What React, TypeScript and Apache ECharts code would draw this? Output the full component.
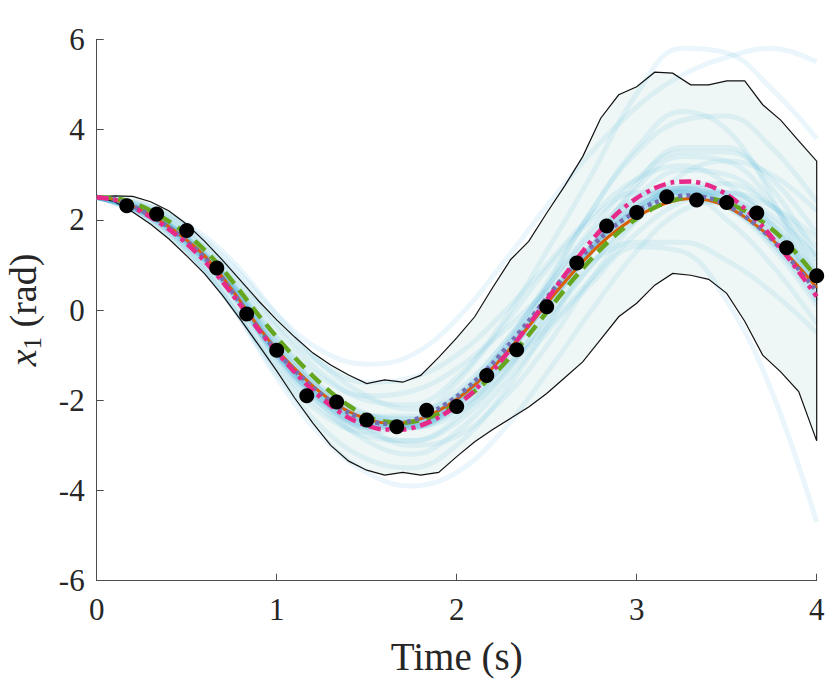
import React, { useEffect, useRef } from 'react';
import * as echarts from 'echarts';

// time grid of the estimate curves (s)
const TIME = [0, 0.1, 0.2, 0.3, 0.4, 0.5, 0.6, 0.7, 0.8, 0.9, 1.0, 1.1, 1.2, 1.3, 1.4, 1.5, 1.6, 1.7, 1.8, 1.9, 2.0,
  2.1, 2.2, 2.3, 2.4, 2.5, 2.6, 2.7, 2.8, 2.9, 3.0, 3.1, 3.2, 3.3, 3.4, 3.5, 3.6, 3.7, 3.8, 3.9, 4.0];

const ORANGE = [2.5, 2.45, 2.3, 2.1, 1.85, 1.55, 1.2, 0.72, 0.18, -0.38, -0.88, -1.3, -1.68, -2.0, -2.25, -2.41, -2.5, -2.5, -2.41, -2.23, -1.98,
  -1.66, -1.28, -0.84, -0.36, 0.14, 0.62, 1.07, 1.47, 1.8, 2.07, 2.27, 2.41, 2.47, 2.43, 2.29, 2.06, 1.76, 1.38, 0.96, 0.5];

const PURPLE = [2.5, 2.45, 2.3, 2.09, 1.83, 1.52, 1.16, 0.68, 0.14, -0.42, -0.92, -1.34, -1.71, -2.03, -2.28, -2.44, -2.52, -2.5, -2.38, -2.18, -1.92,
  -1.58, -1.18, -0.72, -0.24, 0.27, 0.76, 1.21, 1.6, 1.93, 2.19, 2.38, 2.5, 2.54, 2.48, 2.32, 2.08, 1.76, 1.36, 0.9, 0.42];

const GREEN = [2.5, 2.48, 2.38, 2.2, 1.97, 1.68, 1.33, 0.9, 0.4, -0.12, -0.6, -1.05, -1.46, -1.82, -2.12, -2.36, -2.47, -2.5, -2.44, -2.3, -2.08,
  -1.8, -1.45, -1.03, -0.55, -0.05, 0.45, 0.92, 1.35, 1.72, 2.03, 2.27, 2.43, 2.5, 2.48, 2.38, 2.2, 1.95, 1.62, 1.2, 0.72];

const PINK = [2.5, 2.44, 2.28, 2.06, 1.79, 1.47, 1.08, 0.62, 0.1, -0.44, -0.93, -1.38, -1.78, -2.12, -2.39, -2.56, -2.65, -2.65, -2.56, -2.38, -2.12,
  -1.78, -1.35, -0.86, -0.33, 0.22, 0.77, 1.3, 1.77, 2.17, 2.48, 2.7, 2.83, 2.85, 2.76, 2.56, 2.25, 1.85, 1.37, 0.85, 0.3];

const UPPER = [2.5, 2.53, 2.52, 2.4, 2.2, 1.9, 1.52, 1.1, 0.65, 0.2, -0.22, -0.6, -0.95, -1.22, -1.44, -1.63, -1.55, -1.6, -1.45, -1.05, -0.62,
  -0.15, 0.5, 1.12, 1.52, 2.15, 2.75, 3.4, 4.25, 4.77, 4.95, 5.27, 5.25, 4.99, 4.99, 5.08, 5.08, 4.55, 4.21, 3.75, 3.3];

const LOWER = [2.5, 2.4, 2.17, 1.9, 1.58, 1.2, 0.8, 0.32, -0.22, -0.78, -1.35, -1.95, -2.5, -3.0, -3.35, -3.55, -3.66, -3.6, -3.66, -3.6, -3.25,
  -2.92, -2.65, -2.4, -2.15, -1.85, -1.5, -1.15, -0.65, -0.15, 0.15, 0.55, 0.81, 0.77, 0.68, 0.37, -0.25, -1.0, -1.37, -1.81, -2.9];

// measurements (black dots)
const DOT_TIME = [0.167, 0.333, 0.5, 0.667, 0.833, 1.0, 1.167, 1.333, 1.5, 1.667, 1.833, 2.0,
  2.167, 2.333, 2.5, 2.667, 2.833, 3.0, 3.167, 3.333, 3.5, 3.667, 3.833, 4.0];
const DOT_VALUE = [2.31, 2.13, 1.76, 0.93, -0.09, -0.89, -1.9, -2.04, -2.44, -2.59, -2.22, -2.14,
  -1.45, -0.88, 0.07, 1.04, 1.86, 2.16, 2.51, 2.44, 2.38, 2.15, 1.38, 0.76];

// faint sample trajectories
const SAMPLE_TIME = [0, 0.25, 0.5, 0.75, 1.0, 1.25, 1.5, 1.75, 2.0, 2.25, 2.5, 2.75, 3.0, 3.25, 3.5, 3.75, 4.0];
const SAMPLES = [
  [2.5, 2.35, 1.9, 1.1, -0.1, -1.2, -1.9, -2.2, -1.95, -1.3, -0.4, 0.7, 1.7, 2.4, 2.6, 2.3, 1.6],
  [2.5, 2.1, 1.3, 0.1, -1.3, -2.3, -2.7, -2.5, -1.6, -0.4, 0.9, 2.0, 2.6, 2.6, 2.0, 1.0, -0.3],
  [2.5, 2.25, 1.6, 0.6, -0.7, -1.7, -2.3, -2.5, -2.2, -1.4, -0.2, 1.0, 2.0, 2.6, 2.6, 2.1, 1.2],
  [2.5, 2.15, 1.45, 0.35, -1.1, -2.1, -2.6, -2.6, -2.0, -0.9, 0.4, 1.6, 2.4, 2.7, 2.4, 1.5, 0.2],
  [2.5, 2.2, 1.5, 0.4, -1.0, -2.0, -2.7, -2.9, -2.4, -1.2, 0.5, 2.2, 3.5, 4.2, 4.3, 3.6, 2.4],
  [2.5, 2.2, 1.6, 0.6, -0.6, -1.5, -1.9, -1.8, -1.3, -0.5, 0.4, 1.1, 1.5, 1.5, 1.1, 0.4, -0.5],
  [2.5, 2.25, 1.7, 0.8, -0.4, -1.4, -2.0, -2.1, -1.5, -0.3, 1.3, 3.0, 4.8, 5.8, 5.7, 4.9, 3.8],
  [2.5, 2.2, 1.5, 0.4, -1.0, -2.1, -2.9, -3.2, -2.7, -1.7, -0.5, 0.6, 1.4, 1.3, 0.2, -1.8, -4.7],
  [2.5, 2.3, 1.7, 0.7, -0.6, -1.8, -2.6, -3.0, -2.8, -2.0, -0.8, 0.7, 2.0, 3.0, 3.3, 3.0, 2.2],
  [2.5, 2.1, 1.3, 0.1, -1.4, -2.6, -3.3, -3.5, -3.0, -1.9, -0.4, 1.3, 2.8, 3.6, 3.6, 2.7, 1.2],
  [2.5, 2.3, 1.8, 0.9, -0.3, -1.2, -1.6, -1.5, -1.0, -0.1, 1.0, 2.1, 2.9, 3.2, 2.8, 1.9, 0.6],
  [2.5, 2.2, 1.55, 0.5, -0.9, -1.9, -2.5, -2.6, -2.2, -1.3, 0.0, 1.4, 2.5, 3.1, 3.0, 2.3, 1.1],
  [2.5, 2.2, 1.5, 0.45, -0.95, -1.85, -2.35, -2.35, -1.8, -0.8, 0.5, 1.7, 2.5, 2.7, 2.3, 1.4, 0.1],
  [2.5, 2.25, 1.6, 0.55, -0.8, -1.8, -2.45, -2.6, -2.3, -1.5, -0.3, 1.0, 2.1, 2.7, 2.8, 2.3, 1.4],
  [2.5, 2.15, 1.4, 0.3, -1.2, -2.2, -2.8, -2.9, -2.5, -1.5, -0.1, 1.4, 2.7, 3.4, 3.3, 2.4, 0.8],
  [2.5, 2.2, 1.5, 0.4, -1.0, -2.0, -2.5, -2.5, -1.9, -0.8, 0.5, 1.8, 2.9, 3.5, 3.5, 2.9, 1.7],
  [2.5, 2.2, 1.55, 0.5, -0.9, -2.0, -2.6, -2.6, -2.0, -0.9, 0.6, 2.2, 3.6, 4.4, 4.0, 2.5, 0.2],
  [2.5, 2.35, 1.85, 1.0, -0.1, -0.9, -1.2, -1.0, -0.2, 1.0, 2.3, 3.5, 4.5, 5.2, 5.6, 5.8, 5.5],
  [2.5, 2.15, 1.35, 0.1, -1.5, -2.8, -3.6, -3.9, -3.6, -2.7, -1.4, 0.0, 1.3, 2.2, 2.4, 1.9, 0.8],
  [2.5, 2.2, 1.55, 0.55, -0.85, -1.9, -2.45, -2.5, -2.05, -1.1, 0.1, 1.3, 2.2, 2.6, 2.4, 1.7, 0.6],
  [2.5, 2.22, 1.58, 0.55, -0.8, -1.8, -2.35, -2.4, -1.9, -0.95, 0.25, 1.45, 2.3, 2.6, 2.3, 1.5, 0.3],
  [2.5, 2.18, 1.5, 0.42, -1.0, -2.0, -2.55, -2.58, -2.1, -1.1, 0.1, 1.3, 2.25, 2.7, 2.6, 2.0, 1.0],
  [2.5, 2.2, 1.52, 0.48, -0.92, -1.92, -2.45, -2.52, -2.02, -1.02, 0.2, 1.38, 2.22, 2.55, 2.35, 1.62, 0.45],
  [2.5, 2.21, 1.56, 0.52, -0.88, -1.88, -2.42, -2.48, -1.98, -0.98, 0.24, 1.42, 2.28, 2.62, 2.42, 1.7, 0.55],
  [2.5, 2.19, 1.53, 0.46, -0.95, -1.95, -2.48, -2.55, -2.08, -1.08, 0.12, 1.3, 2.15, 2.48, 2.28, 1.55, 0.4],
  [2.5, 2.23, 1.6, 0.6, -0.75, -1.75, -2.32, -2.42, -1.95, -1.0, 0.18, 1.35, 2.25, 2.65, 2.5, 1.85, 0.8],
  [2.5, 2.17, 1.46, 0.38, -1.05, -2.05, -2.58, -2.62, -2.12, -1.1, 0.15, 1.4, 2.35, 2.75, 2.55, 1.8, 0.6],
];

const FONT = 'Liberation Serif, DejaVu Serif, serif';
const TEXT = '#262626';
const AXIS = '#4d4d4d';

export default function App() {
  const ref = useRef<HTMLDivElement>(null);

  useEffect(() => {
    const chart = echarts.init(ref.current!, null, { renderer: 'svg' });
    const pair = (xs: number[], ys: number[]) => xs.map((x, i) => [x, ys[i]]);

    const series: any[] = [];

    series.push({
      type: 'custom',
      silent: true,
      clip: false,
      z: 1,
      data: [[0, 0]],
      renderItem: (_p: any, api: any) => {
        const up = TIME.map((t, i) => api.coord([t, UPPER[i]]));
        const lo = TIME.map((t, i) => api.coord([t, LOWER[i]])).reverse();
        return { type: 'polygon', shape: { points: up.concat(lo) }, style: { fill: '#eef7f5', stroke: 'none' } };
      },
    });

    SAMPLES.forEach((s) => {
      series.push({
        type: 'line',
        data: pair(SAMPLE_TIME, s),
        smooth: 0.4,
        symbol: 'none',
        silent: true,
        z: 2,
        lineStyle: { color: 'rgba(80,185,225,0.12)', width: 5 },
      });
    });

    series.push({
      type: 'custom',
      silent: true,
      clip: false,
      z: 3,
      data: [[0, 0]],
      renderItem: (_p: any, api: any) => {
        const up = TIME.map((t, i) => api.coord([t, UPPER[i]]));
        const lo = TIME.map((t, i) => api.coord([t, LOWER[i]])).reverse();
        return { type: 'polyline', shape: { points: up.concat(lo) }, style: { fill: 'none', stroke: '#111', lineWidth: 1.2 } };
      },
    });

    const main = (ys: number[], color: string, width: number, type: any, z: number) => ({
      type: 'line',
      data: pair(TIME, ys),
      smooth: 0.3,
      symbol: 'none',
      silent: true,
      z,
      lineStyle: { color, width, type, cap: 'butt' },
    });
    series.push(main(ORANGE, '#d95f02', 3, 'solid', 4));
    series.push(main(GREEN, '#66a61e', 4.5, [14, 8], 5));
    series.push(main(PURPLE, '#7570b3', 4.5, [4, 4], 6));
    series.push(main(PINK, '#e7298a', 4.5, [12, 5, 4, 5], 7));

    series.push({
      type: 'scatter',
      data: pair(DOT_TIME, DOT_VALUE),
      symbol: 'circle',
      symbolSize: 15,
      clip: false,
      silent: true,
      z: 8,
      itemStyle: { color: '#000', opacity: 1 },
    });

    chart.setOption({
      animation: false,
      grid: { left: 96.7, right: 13.3, top: 39.3, bottom: 104.3, containLabel: false, outerBoundsMode: 'none' },
      xAxis: {
        type: 'value', min: 0, max: 4, interval: 1,
        name: 'Time (s)', nameLocation: 'middle', nameGap: 56,
        nameTextStyle: { fontFamily: FONT, fontSize: 39, color: TEXT },
        axisLine: { show: true, onZero: false, lineStyle: { color: AXIS, width: 1 } },
        axisTick: { show: true, inside: true, length: 7, lineStyle: { color: AXIS } },
        axisLabel: { fontFamily: FONT, fontSize: 31, color: TEXT, margin: 13 },
        splitLine: { show: false },
      },
      yAxis: {
        type: 'value', min: -6, max: 6, interval: 2,
        name: '{i|x}{s|1}{n| (rad)}', nameLocation: 'middle', nameGap: 52, nameRotate: 90,
        nameTextStyle: {
          fontFamily: FONT, fontSize: 38, color: TEXT,
          rich: {
            i: { fontFamily: FONT, fontSize: 38, fontStyle: 'italic', color: TEXT },
            s: { fontFamily: FONT, fontSize: 25, color: TEXT, padding: [18, 0, 0, 0] },
            n: { fontFamily: FONT, fontSize: 38, color: TEXT },
          },
        },
        axisLine: { show: true, onZero: false, lineStyle: { color: AXIS, width: 1 } },
        axisTick: { show: true, inside: true, length: 7, lineStyle: { color: AXIS } },
        axisLabel: { fontFamily: FONT, fontSize: 31, color: TEXT, margin: 12 },
        splitLine: { show: false },
      },
      series,
    });

    return () => chart.dispose();
  }, []);

  return <div ref={ref} style={{ position: 'absolute', left: 0, top: 0, width: 830, height: 685 }} />;
}
